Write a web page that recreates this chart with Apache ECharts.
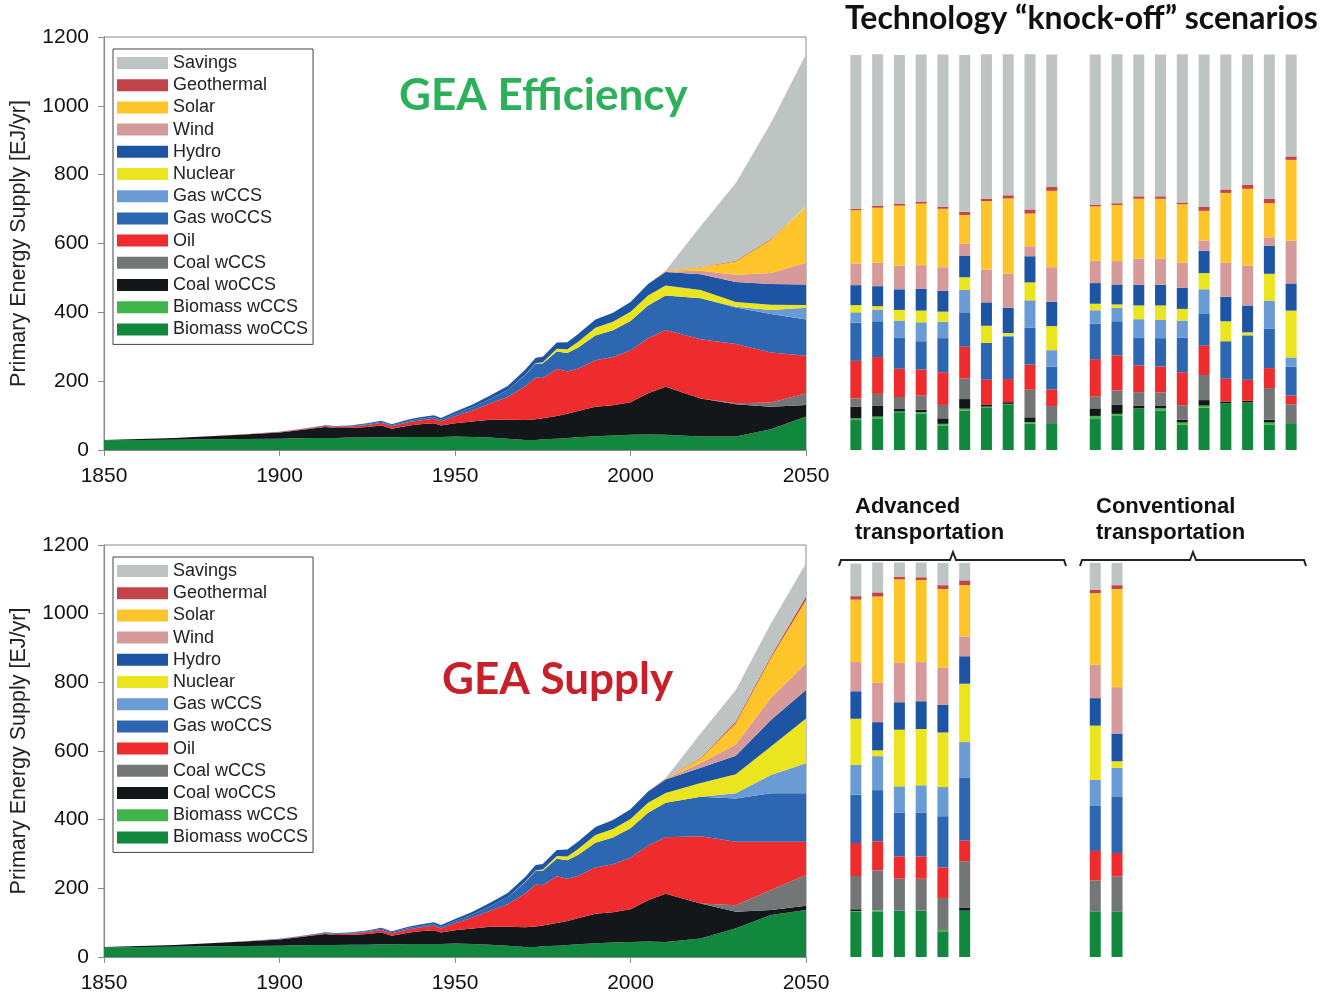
<!DOCTYPE html>
<html>
<head>
<meta charset="utf-8">
<script src="https://cdn.jsdelivr.net/npm/echarts@6/dist/echarts.min.js"></script>
<style>
  html, body { margin: 0; padding: 0; background: #fff; }
  #main { width: 1335px; height: 996px; }
</style>
</head>
<body>
<div id="main"></div>
<script>
// stack order, bottom to top
var fuels = ['Biomass woCCS', 'Biomass wCCS', 'Coal woCCS', 'Coal wCCS', 'Oil', 'Gas woCCS', 'Gas wCCS',
  'Nuclear', 'Hydro', 'Wind', 'Solar', 'Geothermal', 'Savings'];
var fuelColors = ['#12883e', '#3fb54b', '#141719', '#727677', '#ee2b2d', '#2d66b1', '#6a9bd5',
  '#ebe51f', '#1e54a4', '#d69a9a', '#fec52b', '#c0444a', '#bec4c2'];

// historical primary energy, EJ/yr
var histYears = [1850, 1860, 1870, 1880, 1890, 1900, 1905, 1910, 1913, 1916, 1920, 1925, 1929, 1932, 1937, 1940, 1944,
  1946, 1950, 1955, 1960, 1965, 1970, 1973, 1975, 1979, 1982, 1985, 1990, 1995, 2000, 2005, 2010];
var histBiomass = [28, 29, 30, 31, 32, 33, 34, 35, 35, 35, 36, 36, 37, 37, 38, 38, 38,
  38, 39, 38, 36, 33, 29, 29, 31, 33, 35, 37, 40, 42, 44, 45, 44];
var histCoal = [1, 3, 5, 9, 13, 18, 23, 28, 32, 29, 28, 31, 34, 25, 33, 37, 40,
  33, 39, 45, 52, 55, 58, 60, 61, 66, 70, 76, 86, 88, 95, 120, 140];
var histOil = [0, 0, 0, 0.3, 0.6, 1, 1.5, 2, 2.5, 3, 4, 6, 8, 7, 10, 11, 13,
  12, 20, 32, 47, 66, 98, 122, 117, 136, 123, 123, 135, 140, 150, 160, 165];
var histGas = [0, 0, 0, 0, 0, 0.3, 0.5, 0.7, 1, 1, 1.5, 2, 3, 3, 4, 4.5, 5,
  5, 7, 9, 13, 20, 33, 40, 42, 51, 54, 61, 72, 78, 86, 95, 100];
var histNuclear = [0, 0, 0, 0, 0, 0, 0, 0, 0, 0, 0, 0, 0, 0, 0, 0, 0,
  0, 0, 0, 0, 0.3, 1, 2, 4, 8, 11, 17, 22, 25, 27, 29, 29];
var histHydro = [0, 0, 0, 0, 0, 0.5, 0.8, 1, 1.5, 1.7, 2, 2.5, 3, 3, 4, 4.5, 5,
  5, 6, 8, 10, 12, 14, 15, 16, 18, 20, 22, 24, 26, 28, 33, 39];
var histWind = [0, 0, 0, 0, 0, 0, 0, 0, 0, 0, 0, 0, 0, 0, 0, 0, 0,
  0, 0, 0, 0, 0, 0, 0, 0, 0, 0, 0, 0, 0, 0, 0.5, 2];
var histSolar = [0, 0, 0, 0, 0, 0, 0, 0, 0, 0, 0, 0, 0, 0, 0, 0, 0,
  0, 0, 0, 0, 0, 0, 0, 0, 0, 0, 0, 0, 0, 0, 0, 1];
var histGeothermal = [0, 0, 0, 0, 0, 0, 0, 0, 0, 0, 0, 0, 0, 0, 0, 0, 0,
  0, 0, 0, 0, 0, 0, 0, 0, 0, 0, 0, 0, 0, 0, 0, 0.5];
var noHistory = [0, 0, 0, 0, 0, 0, 0, 0, 0, 0, 0, 0, 0, 0, 0, 0, 0,
  0, 0, 0, 0, 0, 0, 0, 0, 0, 0, 0, 0, 0, 0, 0, 0];
var histByFuel = [histBiomass, noHistory, histCoal, noHistory, histOil, histGas, noHistory,
  histNuclear, histHydro, histWind, histSolar, histGeothermal, noHistory];

// scenario years, one row per year, values in fuel order
var futureYears = [2020, 2030, 2040, 2050];
var efficiencyFuture = [
  [39, 0, 111, 0, 172, 119, 0, 24, 46, 10, 10, 1, 119],
  [39, 0, 94, 3, 172, 106, 2, 14, 58, 21, 39, 2, 226],
  [60, 0, 66, 12, 145, 112, 12, 15, 60, 32, 97, 2, 337],
  [97, 0, 34, 34, 109, 105, 34, 8, 60, 63, 162, 2, 442]
];
var supplyFuture = [
  [54, 0, 102, 0, 196, 115, 0, 40, 44, 14, 13, 2, 72],
  [84, 0, 48, 19, 185, 126, 15, 55, 54, 33, 62, 5, 92],
  [122, 0, 15, 58, 141, 141, 53, 83, 77, 65, 116, 5, 95],
  [137, 0, 12, 90, 97, 141, 87, 131, 83, 77, 185, 10, 97]
];

// knock-off scenarios in 2050, one row per bar, values in fuel order
var barSlots = ['1', '2', '3', '4', '5', '6', '7', '8', '9', '10', '', '11', '12', '13', '14', '15', '16', '17', '18', '19', '20'];
var knockoffTopSlots = [0, 1, 2, 3, 4, 5, 6, 7, 8, 9, 11, 12, 13, 14, 15, 16, 17, 18, 19, 20];
var knockoffTop = [
  [87, 5, 34, 24, 109, 111, 30, 21, 58, 63, 155, 4, 447],
  [92, 5, 31, 35, 107, 104, 34, 10, 58, 68, 160, 5, 441],
  [110, 2, 7, 35, 82, 91, 49, 31, 60, 69, 174, 6, 432],
  [105, 5, 7, 41, 76, 82, 55, 34, 63, 69, 179, 6, 427],
  [70, 6, 16, 39, 95, 99, 48, 29, 61, 68, 170, 6, 442],
  [114, 6, 28, 60, 92, 100, 65, 37, 63, 34, 84, 9, 456],
  [124, 2, 5, 0, 73, 107, 0, 50, 68, 95, 199, 7, 420],
  [133, 1, 5, 0, 67, 124, 2, 8, 73, 99, 219, 9, 410],
  [76, 5, 14, 80, 73, 107, 80, 52, 76, 29, 95, 12, 451],
  [78, 0, 0, 50, 48, 66, 48, 70, 71, 100, 222, 11, 385],
  [92, 7, 22, 34, 109, 103, 39, 19, 60, 65, 158, 5, 436],
  [99, 6, 26, 42, 102, 99, 39, 10, 58, 68, 163, 5, 433],
  [121, 0, 7, 40, 78, 81, 53, 40, 60, 76, 174, 7, 412],
  [114, 7, 7, 39, 76, 82, 53, 42, 60, 76, 174, 7, 412],
  [73, 7, 8, 42, 96, 100, 50, 34, 61, 73, 170, 5, 431],
  [123, 6, 16, 73, 85, 94, 70, 47, 65, 30, 86, 11, 443],
  [136, 0, 5, 0, 66, 109, 0, 58, 71, 99, 203, 10, 392],
  [138, 0, 5, 0, 61, 128, 2, 8, 78, 116, 223, 12, 378],
  [73, 7, 8, 92, 58, 114, 82, 78, 81, 25, 99, 13, 419],
  [78, 0, 0, 55, 25, 84, 27, 136, 79, 124, 235, 10, 296]
];
var knockoffBottomSlots = [0, 1, 2, 3, 4, 5, 11, 12];
var knockoffBottom = [
  [133, 1, 5, 97, 96, 141, 87, 134, 80, 85, 182, 10, 95],
  [133, 3, 0, 116, 85, 149, 99, 17, 82, 115, 251, 12, 87],
  [135, 0, 0, 93, 65, 128, 76, 165, 80, 115, 243, 8, 41],
  [135, 0, 0, 93, 65, 128, 79, 164, 81, 114, 239, 8, 43],
  [73, 5, 2, 92, 89, 149, 85, 159, 81, 107, 230, 11, 65],
  [135, 0, 8, 136, 60, 184, 103, 170, 80, 58, 149, 14, 51],
  [133, 0, 0, 90, 86, 131, 76, 158, 80, 97, 209, 10, 78],
  [133, 0, 0, 102, 68, 165, 83, 19, 81, 135, 286, 11, 65]
];

var chart = echarts.init(document.getElementById('main'), null, { renderer: 'canvas' });

var FONT = 'Liberation Sans';
var axisGray = '#8a8a8a';
var plainNumber = function (v) { return String(v); };

function areaAxes(gridIndex) {
  return {
    x: {
      gridIndex: gridIndex, type: 'value', min: 1850, max: 2050, interval: 50,
      axisLine: { lineStyle: { color: axisGray, width: 1 } },
      axisTick: { length: 6, lineStyle: { color: axisGray } },
      axisLabel: { fontSize: 21, color: '#111', margin: 16, fontFamily: FONT, formatter: plainNumber },
      splitLine: { show: false }
    },
    y: {
      gridIndex: gridIndex, type: 'value', min: 0, max: 1200, interval: 200,
      name: 'Primary Energy Supply [EJ/yr]', nameLocation: 'middle', nameGap: 74,
      nameTextStyle: { fontSize: 21.5, color: '#222', fontFamily: FONT },
      axisLine: { show: true, lineStyle: { color: axisGray, width: 1 } },
      axisTick: { show: true, length: 6, lineStyle: { color: axisGray } },
      axisLabel: { fontSize: 21, color: '#111', margin: 15, fontFamily: FONT, formatter: plainNumber },
      splitLine: { show: false }
    }
  };
}

// data points are [value, year] so the stack runs on the value dimension
function areaSeries(future, axisIndex, stackName) {
  var years = histYears.concat(futureYears);
  return fuels.map(function (name, i) {
    var vals = histByFuel[i].concat(future.map(function (row) { return row[i]; }));
    return {
      name: name, type: 'line', stack: stackName,
      xAxisIndex: axisIndex, yAxisIndex: axisIndex,
      encode: { x: 1, y: 0 },
      data: years.map(function (y, k) { return [vals[k], y]; }),
      showSymbol: false, symbol: 'none', silent: true,
      color: fuelColors[i],
      itemStyle: { color: fuelColors[i] },
      lineStyle: { width: 0 },
      areaStyle: { color: fuelColors[i], opacity: 1 }
    };
  });
}

function barSeries(rows, slots, axisIndex, stackName) {
  return fuels.map(function (name, i) {
    var data = barSlots.map(function () { return '-'; });
    rows.forEach(function (row, k) { data[slots[k]] = row[i]; });
    return {
      name: name, type: 'bar', stack: stackName,
      xAxisIndex: axisIndex, yAxisIndex: axisIndex,
      barWidth: 11, silent: true,
      color: fuelColors[i],
      itemStyle: { color: fuelColors[i] },
      data: data
    };
  });
}

function legendAt(top) {
  return {
    orient: 'vertical', left: 113, top: top,
    data: fuels.slice().reverse(),
    icon: 'rect', itemWidth: 51, itemHeight: 12, itemGap: 4.2,
    selectedMode: false,
    borderColor: '#444', borderWidth: 1, padding: [5, 5, 6, 4],
    backgroundColor: '#fff',
    textStyle: { fontSize: 18, lineHeight: 18, color: '#222', fontFamily: FONT }
  };
}

var a0 = areaAxes(0), a1 = areaAxes(1);
var catX = function (g) {
  return { gridIndex: g, type: 'category', data: barSlots, show: false };
};
var hidY = function (g) {
  return { gridIndex: g, type: 'value', min: 0, max: 1200, show: false, splitLine: { show: false } };
};

var option = {
  animation: false,
  backgroundColor: '#fff',
  grid: [
    { left: 103, top: 37, width: 703, height: 413, show: true, borderColor: axisGray, borderWidth: 1, backgroundColor: 'transparent' },
    { left: 103, top: 545, width: 703, height: 412, show: true, borderColor: axisGray, borderWidth: 1, backgroundColor: 'transparent' },
    { left: 845, top: 37, width: 457, height: 413 },
    { left: 845, top: 545, width: 457, height: 412 }
  ],
  xAxis: [a0.x, a1.x, catX(2), catX(3)],
  yAxis: [a0.y, a1.y, hidY(2), hidY(3)],
  legend: [legendAt(49), legendAt(557)],
  series: []
    .concat(areaSeries(efficiencyFuture, 0, 'eff'))
    .concat(areaSeries(supplyFuture, 1, 'sup'))
    .concat(barSeries(knockoffTop, knockoffTopSlots, 2, 'kTop'))
    .concat(barSeries(knockoffBottom, knockoffBottomSlots, 3, 'kBot')),
  graphic: [
    { type: 'text', left: 399, top: 74, style: { text: 'GEA Efficiency', fill: '#2bb15a', font: 'bold 44px Lato' } },
    { type: 'text', left: 442, top: 658, style: { text: 'GEA Supply', fill: '#c8202a', font: 'bold 44px Lato' } },
    { type: 'text', left: 845, top: 3, style: { text: 'Technology \u201cknock-off\u201d scenarios', fill: '#111', font: 'bold 32px Lato' } },
    { type: 'text', left: 855, top: 494, style: { text: 'Advanced\ntransportation', fill: '#111', font: 'bold 22px "Liberation Sans"', lineHeight: 26 } },
    { type: 'text', left: 1096, top: 494, style: { text: 'Conventional\ntransportation', fill: '#111', font: 'bold 22px "Liberation Sans"', lineHeight: 26 } },
    { type: 'polyline', shape: { points: [[839, 566], [841, 560], [950, 560], [953, 552], [956, 560], [1064, 560], [1066, 566]] },
      style: { stroke: '#222', lineWidth: 2, fill: null } },
    { type: 'polyline', shape: { points: [[1080, 566], [1082, 560], [1190, 560], [1193, 552], [1196, 560], [1304, 560], [1306, 566]] },
      style: { stroke: '#222', lineWidth: 2, fill: null } }
  ]
};

chart.setOption(option);
</script>
</body>
</html>
